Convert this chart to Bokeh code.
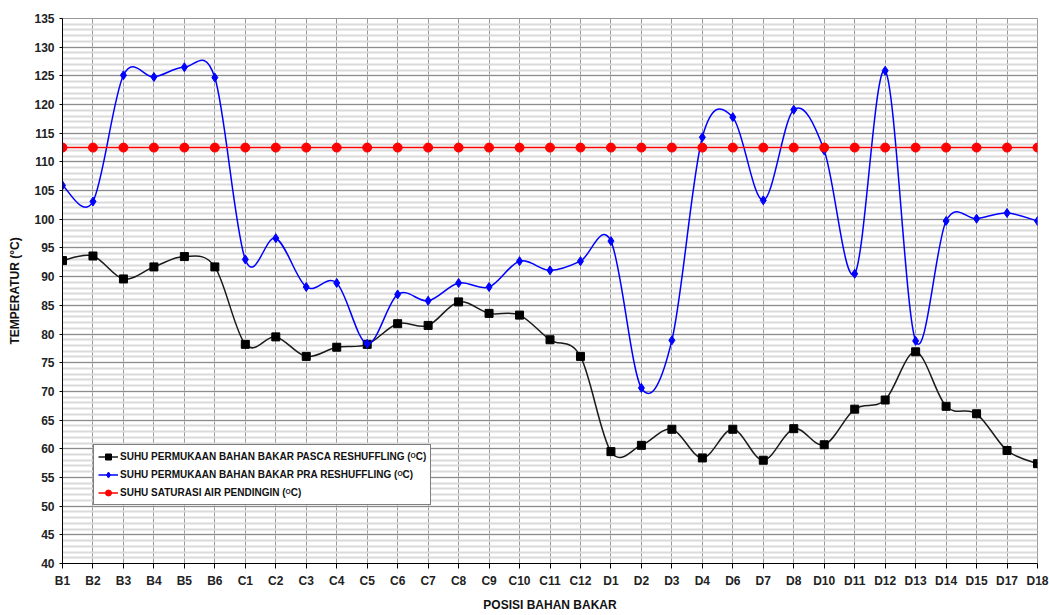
import numpy as np
from bokeh.plotting import figure
from bokeh.models import (Range1d, FixedTicker, SingleIntervalTicker, Legend, LegendItem,
                          ColumnDataSource)
from bokeh.embed import file_html
from bokeh.resources import INLINE

categories = ["B1", "B2", "B3", "B4", "B5", "B6", "C1", "C2", "C3", "C4", "C5", "C6",
              "C7", "C8", "C9", "C10", "C11", "C12", "D1", "D2", "D3", "D4", "D6", "D7",
              "D8", "D10", "D11", "D12", "D13", "D14", "D15", "D17", "D18"]

pasca = [92.8, 93.6, 89.6, 91.7, 93.5, 91.7, 78.2, 79.5, 76.1, 77.7, 78.2, 81.8,
         81.5, 85.6, 83.6, 83.3, 79.0, 76.1, 59.5, 60.6, 63.4, 58.4, 63.4, 58.0,
         63.5, 60.7, 66.9, 68.5, 76.9, 67.4, 66.1, 59.7, 57.4]

pra = [105.9, 103.1, 125.1, 124.8, 126.5, 124.7, 93.0, 96.7, 88.2, 88.9, 78.3, 86.9,
       85.8, 88.9, 88.2, 92.7, 91.1, 92.7, 96.2, 70.6, 78.9, 114.3, 117.8, 103.3,
       119.1, 112.0, 90.5, 125.9, 78.8, 99.7, 100.1, 101.1, 99.7]

saturasi = [112.5] * 33

labels = ["SUHU PERMUKAAN BAHAN BAKAR PASCA RESHUFFLING (\u1d3cC)",
          "SUHU PERMUKAAN BAHAN BAKAR PRA RESHUFFLING (\u1d3cC)",
          "SUHU SATURASI AIR PENDINGIN (\u1d3cC)"]

FONT = "Liberation Sans"


def smooth_segments(yvals):
    """Catmull-Rom style Bezier control points (like a spreadsheet's smoothed line)."""
    y = np.asarray(yvals, dtype=float)
    x = np.arange(len(y), dtype=float)
    xp = np.concatenate([[x[0]], x, [x[-1]]])
    yp = np.concatenate([[y[0]], y, [y[-1]]])
    n = len(y)
    d = dict(x0=[], y0=[], x1=[], y1=[], cx0=[], cy0=[], cx1=[], cy1=[])
    for i in range(n - 1):
        j = i + 1
        d["x0"].append(xp[j]); d["y0"].append(yp[j])
        d["x1"].append(xp[j + 1]); d["y1"].append(yp[j + 1])
        d["cx0"].append(xp[j] + (xp[j + 1] - xp[j - 1]) / 6.0)
        d["cy0"].append(yp[j] + (yp[j + 1] - yp[j - 1]) / 6.0)
        d["cx1"].append(xp[j + 1] - (xp[j + 2] - xp[j]) / 6.0)
        d["cy1"].append(yp[j + 1] - (yp[j + 2] - yp[j]) / 6.0)
    return ColumnDataSource(d)


p = figure(width=1049, height=615, output_backend="svg", toolbar_location=None,
           x_range=Range1d(0, len(categories) - 1), y_range=Range1d(40, 135),
           min_border_left=62, min_border_right=12, min_border_top=18, min_border_bottom=52)

p.background_fill_color = "white"
p.border_fill_color = "white"
p.outline_line_color = "#999999"
p.outline_line_width = 1

p.xaxis.ticker = FixedTicker(ticks=list(range(len(categories))))
p.xaxis.major_label_overrides = {i: c for i, c in enumerate(categories)}
p.yaxis.ticker = SingleIntervalTicker(interval=5, num_minor_ticks=5)
p.xaxis.axis_label = "POSISI BAHAN BAKAR"
p.yaxis.axis_label = "TEMPERATUR (\u00b0C)"
for ax in (p.xaxis, p.yaxis):
    ax.axis_label_text_font = FONT
    ax.axis_label_text_font_style = "bold"
    ax.axis_label_text_font_size = "12px"
    ax.axis_label_text_color = "#111111"
    ax.major_label_text_font = FONT
    ax.major_label_text_font_style = "bold"
    ax.major_label_text_font_size = "12px"
    ax.major_label_text_color = "#222222"
    ax.axis_line_color = "black"
    ax.major_tick_line_color = "black"
    ax.minor_tick_line_color = None
    ax.major_tick_in = 0
p.xaxis.major_tick_out = 5
p.yaxis.major_tick_out = 3
p.xaxis.major_label_standoff = 5
p.yaxis.major_label_standoff = 4
p.xaxis.axis_label_standoff = 7
p.yaxis.axis_label_standoff = 9

p.xgrid.grid_line_color = "#9a9a9a"
p.xgrid.grid_line_width = 1
p.ygrid.grid_line_color = "#8c8c8c"
p.ygrid.grid_line_width = 1
p.ygrid.minor_grid_line_color = "#dadada"
p.ygrid.minor_grid_line_width = 2

x = list(range(len(categories)))

# PASCA (black)
p.bezier(source=smooth_segments(pasca), x0="x0", y0="y0", x1="x1", y1="y1",
         cx0="cx0", cy0="cy0", cx1="cx1", cy1="cy1", line_color="#1a1a1a", line_width=1.5)
pasca_leg_line = p.line(x=x, y=pasca, line_color="#1a1a1a", line_width=1.5, visible=False)
pasca_pts = p.scatter(x=x, y=pasca, marker="square", size=8, fill_color="black",
                      line_color="black")

# PRA (blue)
p.bezier(source=smooth_segments(pra), x0="x0", y0="y0", x1="x1", y1="y1",
         cx0="cx0", cy0="cy0", cx1="cx1", cy1="cy1", line_color="#0000ff", line_width=1.5)
pra_leg_line = p.line(x=x, y=pra, line_color="#0000ff", line_width=1.5, visible=False)
pra_pts = p.scatter(x=x, y=pra, marker="diamond", size=9, fill_color="#0000ff",
                    line_color="#0000ff")

# SATURASI (red)
sat_line = p.line(x=x, y=saturasi, line_color="#ff0000", line_width=1.5)
sat_pts = p.scatter(x=x, y=saturasi, marker="circle", size=9, fill_color="#ff0000",
                    line_color="#ff0000")

legend = Legend(items=[
    LegendItem(label=labels[0], renderers=[pasca_leg_line, pasca_pts]),
    LegendItem(label=labels[1], renderers=[pra_leg_line, pra_pts]),
    LegendItem(label=labels[2], renderers=[sat_line, sat_pts]),
], location=(31, 58))
legend.label_text_font = FONT
legend.label_text_font_style = "bold"
legend.label_text_font_size = "10px"
legend.label_text_color = "#111111"
legend.glyph_width = 20
legend.glyph_height = 15
legend.label_height = 15
legend.label_standoff = 2
legend.spacing = 3
legend.padding = 4
legend.margin = 0
legend.border_line_color = "black"
legend.border_line_width = 1
legend.background_fill_color = "white"
legend.background_fill_alpha = 1
p.add_layout(legend)

open("out.html", "w").write(file_html(p, INLINE))
